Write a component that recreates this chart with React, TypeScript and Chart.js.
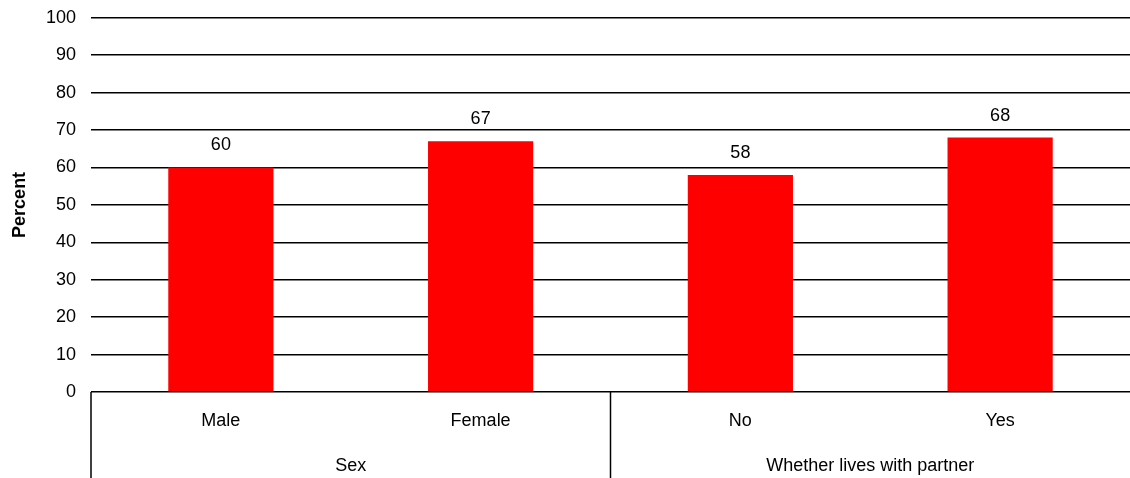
import React, { useEffect, useRef } from "react";
import { Chart, registerables } from "chart.js";

Chart.register(...registerables);

// Categories, grouping and values
const categories = ["Male", "Female", "No", "Yes"];
const groupLabels = ["Sex", "Whether lives with partner"];
const groupSizes = [2, 2];
const percentValues = [60, 67, 58, 68];
const yTicks = [0, 10, 20, 30, 40, 50, 60, 70, 80, 90, 100];

const FONT = "'Liberation Sans', Arial, Helvetica, sans-serif";
const FONT_SIZE = 18;
const WIDTH = 1130;
const HEIGHT = 478;
// Canvas is taller than the view and shifted up so the top gridline sits close to the edge
const TOP_SHIFT = 8;

// Draws value labels above the bars
const valueLabels = {
  id: "valueLabels",
  afterDatasetsDraw(chart: any) {
    const ctx = chart.ctx;
    const meta = chart.getDatasetMeta(0);
    ctx.save();
    ctx.fillStyle = "#000";
    ctx.font = `${FONT_SIZE}px ${FONT}`;
    ctx.textAlign = "center";
    ctx.textBaseline = "middle";
    meta.data.forEach((bar: any, i: number) => {
      ctx.fillText(String(percentValues[i]), bar.x, bar.y - 22);
    });
    ctx.restore();
  },
};

// Draws the two-level category axis: separators and group names
const groupAxis = {
  id: "groupAxis",
  afterDraw(chart: any) {
    const ctx = chart.ctx;
    const x = chart.scales.x;
    const { bottom, left, right } = chart.chartArea;
    const h = chart.height;
    const half = (x.getPixelForTick(1) - x.getPixelForTick(0)) / 2;
    ctx.save();
    ctx.strokeStyle = "#000";
    ctx.lineWidth = 1.5;
    ctx.fillStyle = "#000";
    ctx.font = `${FONT_SIZE}px ${FONT}`;
    ctx.textAlign = "center";
    ctx.textBaseline = "middle";
    let start = 0;
    const drawSep = (px: number) => {
      ctx.beginPath();
      ctx.moveTo(px, bottom);
      ctx.lineTo(px, h);
      ctx.stroke();
    };
    drawSep(left);
    groupSizes.forEach((n, gi) => {
      const first = x.getPixelForTick(start);
      const last = x.getPixelForTick(start + n - 1);
      ctx.fillText(groupLabels[gi], (first + last) / 2, bottom + 74);
      const edge = last + half;
      if (edge < right - 1) drawSep(edge);
      start += n;
    });
    ctx.restore();
  },
};

export default function App() {
  const canvasRef = useRef<HTMLCanvasElement | null>(null);

  useEffect(() => {
    if (!canvasRef.current) return;
    const chart = new Chart(canvasRef.current, {
      type: "bar",
      data: {
        labels: categories,
        datasets: [
          {
            data: percentValues,
            backgroundColor: "#ff0000",
            borderWidth: 0,
            barPercentage: 0.405,
            categoryPercentage: 1,
          },
        ],
      },
      options: {
        animation: false,
        responsive: false,
        maintainAspectRatio: false,
        layout: { padding: { top: 3, right: 0, left: 0, bottom: 0 } },
        plugins: {
          legend: { display: false },
          tooltip: { enabled: false },
        },
        scales: {
          x: {
            grid: { display: false, drawTicks: false },
            border: { display: false },
            ticks: {
              color: "#000",
              font: { family: FONT, size: FONT_SIZE },
              padding: 18,
              maxRotation: 0,
            },
            afterFit(scale: any) {
              scale.height = 86;
            },
          },
          y: {
            min: 0,
            max: 100,
            afterBuildTicks(scale: any) {
              scale.ticks = yTicks.map((v) => ({ value: v }));
            },
            grid: { color: "#000", lineWidth: 1.5, drawTicks: false },
            border: { display: false },
            ticks: {
              color: "#000",
              font: { family: FONT, size: FONT_SIZE },
              padding: 15,
            },
            title: {
              display: true,
              text: "Percent",
              color: "#000",
              font: { family: FONT, size: 18, weight: "bold" },
              padding: { top: 9, bottom: 0 },
            },
            afterFit(scale: any) {
              scale.width = 91;
            },
          },
        },
      },
      plugins: [valueLabels, groupAxis],
    });
    return () => chart.destroy();
  }, []);

  return (
    <div
      style={{
        position: "absolute",
        left: 0,
        top: 0,
        width: WIDTH,
        height: HEIGHT,
        overflow: "hidden",
        background: "#fff",
      }}
    >
      <canvas
        ref={canvasRef}
        width={WIDTH}
        height={HEIGHT + TOP_SHIFT}
        style={{ display: "block", marginTop: -TOP_SHIFT }}
      />
    </div>
  );
}
